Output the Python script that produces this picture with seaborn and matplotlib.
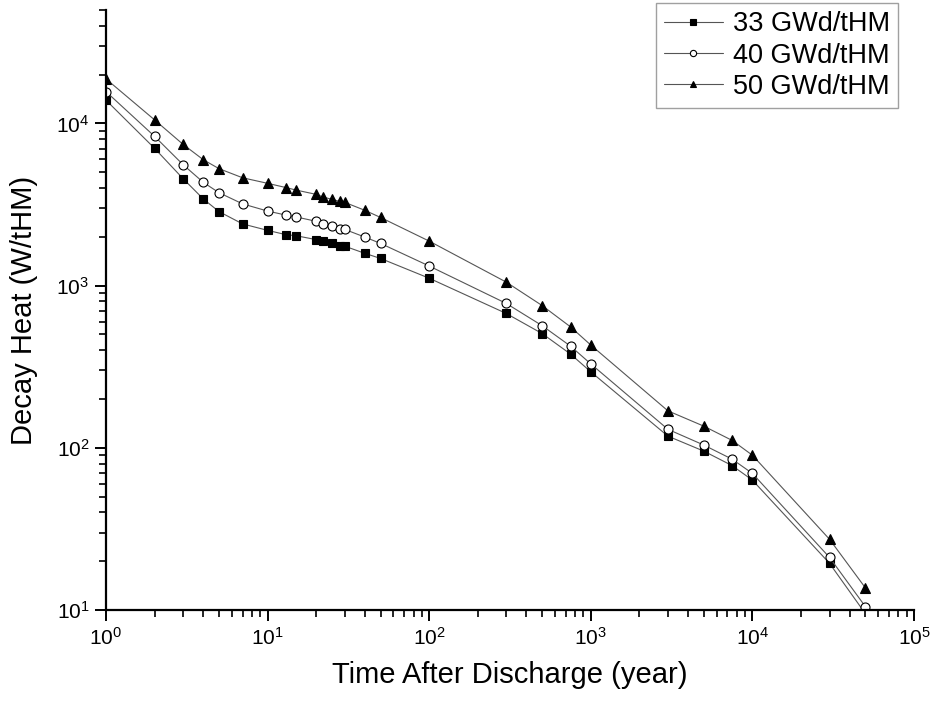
import numpy as np
import pandas as pd
import matplotlib
matplotlib.use("Agg")
import matplotlib.pyplot as plt
import seaborn as sns

# time after discharge (year)
years = [1, 2, 3, 4, 5, 7, 10, 13, 15, 20, 22, 25, 28, 30, 40, 50,
         100, 300, 500, 750, 1000, 3000, 5000, 7500, 10000, 30000, 50000]

# decay heat (W/tHM)
heat_33 = [13900, 7010, 4560, 3420, 2860, 2400, 2190, 2060, 2030, 1920, 1870, 1830, 1750, 1750, 1580, 1470,
           1110, 673, 506, 378, 294, 118, 95.4, 77.6, 63.2, 19.4, 9.5]
heat_40 = [15700, 8310, 5560, 4330, 3740, 3190, 2880, 2720, 2650, 2490, 2400, 2340, 2240, 2220, 1990, 1820,
           1320, 776, 566, 423, 329, 130, 104, 85, 69.5, 21.1, 10.5]
heat_50 = [18800, 10500, 7420, 5970, 5260, 4620, 4270, 4020, 3880, 3650, 3520, 3400, 3300, 3260, 2910, 2630,
           1880, 1050, 753, 556, 430, 169, 136, 111, 90, 27.3, 13.7]

labels = ["33 GWd/tHM", "40 GWd/tHM", "50 GWd/tHM"]

sns.set_style("ticks")
plt.rcParams['font.family'] = ['Liberation Sans', 'DejaVu Sans']
plt.rcParams['text.color'] = 'black'
plt.rcParams['axes.labelcolor'] = 'black'

df = pd.DataFrame({
    "year": years * 3,
    "heat": heat_33 + heat_40 + heat_50,
    "burnup": [labels[0]] * len(years) + [labels[1]] * len(years) + [labels[2]] * len(years),
})

fig = plt.figure(figsize=(9.33, 7.06), dpi=100)
ax = fig.add_axes([106 / 933, 96 / 706, 808 / 933, 600 / 706])

styles = {
    labels[0]: dict(marker="s", mfc="black", ms=6),
    labels[1]: dict(marker="o", mfc="white", ms=6.5),
    labels[2]: dict(marker="^", mfc="black", ms=7.5),
}
for lab in labels:
    sub = df[df["burnup"] == lab]
    st = styles[lab]
    sns.lineplot(data=sub, x="year", y="heat", ax=ax, label=lab, estimator=None, sort=False,
                 color="#555555", linewidth=0.8, marker=st["marker"], markersize=st["ms"],
                 markerfacecolor=st["mfc"], markeredgecolor="black", markeredgewidth=0.8)

ax.set_xscale("log")
ax.set_yscale("log")
ax.set_xlim(1, 1e5)
ax.set_ylim(10, 5e4)

sns.despine(ax=ax)
for sp in ["left", "bottom"]:
    ax.spines[sp].set_linewidth(1.6)
    ax.spines[sp].set_color("black")

ax.tick_params(which="major", direction="out", length=8, width=1.4, labelsize=15,
               colors="black", pad=4)
ax.tick_params(which="minor", direction="out", length=5, width=1.2, colors="black")
ax.xaxis.set_minor_locator(matplotlib.ticker.LogLocator(base=10, subs=np.arange(2, 10), numticks=20))
ax.yaxis.set_minor_locator(matplotlib.ticker.LogLocator(base=10, subs=np.arange(2, 10), numticks=20))
ax.xaxis.set_minor_formatter(matplotlib.ticker.NullFormatter())
ax.yaxis.set_minor_formatter(matplotlib.ticker.NullFormatter())

ax.set_xlabel("Time After Discharge (year)", fontsize=21, labelpad=9)
ax.set_ylabel("Decay Heat (W/tHM)", fontsize=21, labelpad=13)

leg = ax.legend(loc="upper right", bbox_to_anchor=(898 / 933, 1 - 3 / 706),
                bbox_transform=fig.transFigure, fontsize=19.5, frameon=True, fancybox=False,
                edgecolor="#888888", borderpad=0.3, labelspacing=0.2, handlelength=2.2,
                handletextpad=0.35, borderaxespad=0)
leg.get_frame().set_linewidth(1.0)
for line in leg.get_lines():
    line.set_markersize(4.5)
for txt in leg.get_texts():
    txt.set_color("black")

fig.savefig("out.png", dpi=100)
